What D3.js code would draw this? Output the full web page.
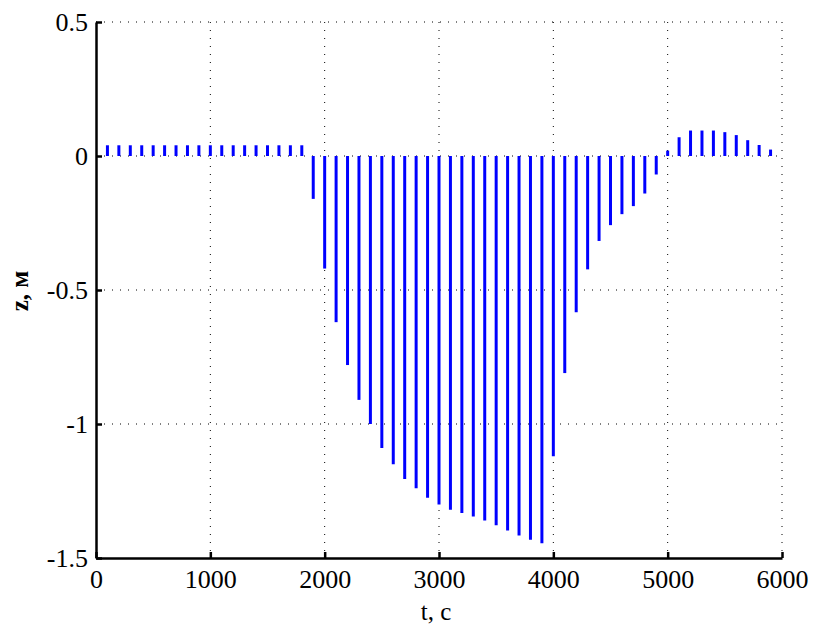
<!DOCTYPE html>
<html>
<head>
<meta charset="utf-8">
<script src="https://cdn.jsdelivr.net/npm/d3@7"></script>
<style>
  html, body { margin: 0; padding: 0; background: #fff; }
  svg { display: block; font-family: "Liberation Serif", "Times New Roman", serif; }
</style>
</head>
<body>
<svg id="chart" width="813" height="626"></svg>
<script>
// time, c
const times = [
  100, 200, 300, 400, 500, 600, 700, 800, 900, 1000,
  1100, 1200, 1300, 1400, 1500, 1600, 1700, 1800, 1900, 2000,
  2100, 2200, 2300, 2400, 2500, 2600, 2700, 2800, 2900, 3000,
  3100, 3200, 3300, 3400, 3500, 3600, 3700, 3800, 3900, 4000,
  4100, 4200, 4300, 4400, 4500, 4600, 4700, 4800, 4900, 5000,
  5100, 5200, 5300, 5400, 5500, 5600, 5700, 5800, 5900
];

// z, m
const zValues = [
  0.04, 0.04, 0.04, 0.04, 0.04, 0.04, 0.04, 0.04, 0.04, 0.04,
  0.04, 0.04, 0.04, 0.04, 0.04, 0.04, 0.04, 0.04, -0.16, -0.42,
  -0.62, -0.78, -0.91, -1.0, -1.09, -1.15, -1.205, -1.24, -1.275, -1.3,
  -1.32, -1.332, -1.345, -1.36, -1.378, -1.397, -1.416, -1.432, -1.445, -1.12,
  -0.81, -0.583, -0.423, -0.317, -0.258, -0.217, -0.187, -0.14, -0.069, 0.02,
  0.07, 0.095, 0.095, 0.095, 0.089, 0.078, 0.059, 0.041, 0.024
];

const xTicks = [0, 1000, 2000, 3000, 4000, 5000, 6000];
const yTicks = [0.5, 0, -0.5, -1, -1.5];

const xLabel = 't, c';
const yLabel = 'z, м';

const margin = { top: 22, right: 31, bottom: 68, left: 96 };
const width = 813, height = 626;
const chartW = width - margin.left - margin.right;
const chartH = height - margin.top - margin.bottom;

const svg = d3.select('#chart');
const g = svg.append('g').attr('transform', `translate(${margin.left},${margin.top})`);

const x = d3.scaleLinear().domain([0, 6000]).range([0, chartW]);
const y = d3.scaleLinear().domain([-1.5, 0.5]).range([chartH, 0]);

// grid
g.append('g')
  .selectAll('line')
  .data(xTicks.filter(d => d > 0))
  .join('line')
    .attr('x1', d => x(d)).attr('x2', d => x(d))
    .attr('y1', 0).attr('y2', chartH)
    .attr('stroke', '#000')
    .attr('stroke-width', 1)
    .attr('stroke-dasharray', '1,7');

g.append('g')
  .selectAll('line')
  .data(yTicks.filter(d => d > -1.5))
  .join('line')
    .attr('x1', 0).attr('x2', chartW)
    .attr('y1', d => y(d)).attr('y2', d => y(d))
    .attr('stroke', '#000')
    .attr('stroke-width', 1)
    .attr('stroke-dasharray', '1,7');

// stems
g.append('g')
  .selectAll('line')
  .data(times.map((t, i) => ({ t, z: zValues[i] })))
  .join('line')
    .attr('x1', d => x(d.t)).attr('x2', d => x(d.t))
    .attr('y1', y(0)).attr('y2', d => y(d.z))
    .attr('stroke', '#0000ff')
    .attr('stroke-width', 3);

// axes
const xAxis = g.append('g')
  .attr('transform', `translate(0,${chartH})`)
  .call(d3.axisBottom(x).tickValues(xTicks).tickFormat(d3.format('d'))
    .tickSizeInner(-6).tickSizeOuter(0).tickPadding(12));

const yAxis = g.append('g')
  .call(d3.axisLeft(y).tickValues(yTicks).tickFormat(d => d3.format('')(d).replace('−', '-'))
    .tickSizeInner(-6).tickSizeOuter(0).tickPadding(8));

[xAxis, yAxis].forEach(a => {
  a.select('.domain').attr('stroke', '#000').attr('stroke-width', 2.5);
  a.selectAll('.tick line').attr('stroke', '#000').attr('stroke-width', 2.5);
  a.selectAll('.tick text')
    .attr('fill', '#000')
    .style('font-family', '"Liberation Serif", serif')
    .style('font-size', '26px');
});
xAxis.selectAll('.tick text').attr('dy', '0.71em');

// labels
svg.append('text')
  .attr('x', 436)
  .attr('y', 620)
  .attr('text-anchor', 'middle')
  .style('font-size', '25px')
  .text(xLabel);

svg.append('text')
  .attr('transform', 'translate(28,291) rotate(-90)')
  .attr('text-anchor', 'middle')
  .style('font-size', '25px')
  .style('font-weight', 'bold')
  .text(yLabel);
</script>
</body>
</html>
